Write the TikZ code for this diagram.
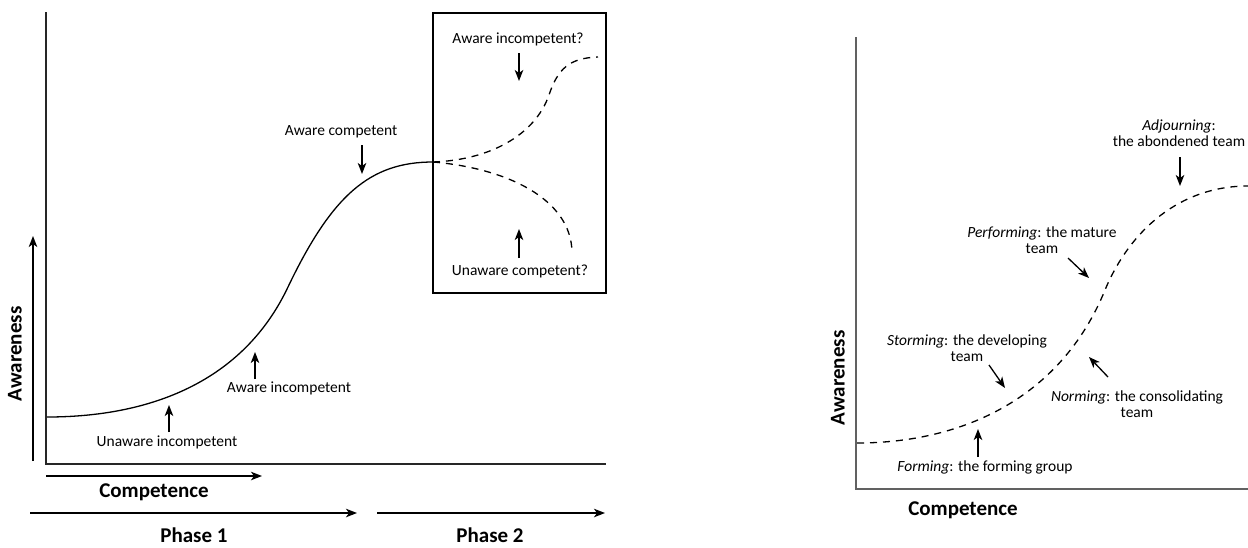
\documentclass[tikz,border=0pt]{standalone}
\usepackage{fontspec}
\setmainfont{Carlito}
\usetikzlibrary{arrows.meta}
\begin{document}
\begin{tikzpicture}[x=1pt,y=-1pt,
  lbl/.style={font=\fontsize{15.5}{16}\selectfont,inner sep=0pt,align=center},
  axlbl/.style={font=\fontsize{21}{24}\selectfont\bfseries,inner sep=0pt},
  arr/.style={line width=1.3pt,-{Stealth[length=11pt,width=8.5pt,inset=3pt]}},
  axis/.style={line width=1.3pt,draw=black!85},
  raxis/.style={line width=2pt,draw=black!62},
  curve/.style={line width=1.3pt},
  dcurve/.style={line width=1.3pt,dash pattern=on 7pt off 6pt}]
\useasboundingbox (0,0) rectangle (1248,547);
% ---------------- left diagram ----------------
\coordinate (vtop) at (46,12);
\coordinate (orig) at (46,464);
\coordinate (hend) at (606,464);
\draw[axis] (vtop) -- (orig) -- (hend);
\coordinate (awS) at (33,461);
\coordinate (awE) at (33,236);
\draw[arr] (awS) -- (awE);
\node[axlbl,rotate=90] (aw) at (15,354) {Awareness};
\coordinate (coS) at (46,476);
\coordinate (coE) at (262,476);
\draw[arr] (coS) -- (coE);
\node[axlbl] (co) at (154,492) {Competence};
\coordinate (p1S) at (30,513);
\coordinate (p1E) at (357,513);
\draw[arr] (p1S) -- (p1E);
\coordinate (p2S) at (377,513);
\coordinate (p2E) at (605,513);
\draw[arr] (p2S) -- (p2E);
\node[axlbl] (ph1) at (194,535) {Phase 1};
\node[axlbl] (ph2) at (490,535) {Phase 2};
% box
\node[draw,line width=2.4pt,minimum width=173pt,minimum height=280pt,inner sep=0pt] (box) at (519.5,153) {};
% solid curve
\coordinate (c0) at (47,417);
\coordinate (c1) at (288,287);
\coordinate (c2) at (433,162);
\draw[curve] (c0) .. controls (150,417) and (243,382) .. (c1)
  .. controls (332,195) and (370,162) .. (c2);
% dashed branches
\coordinate (u1) at (549,95);
\coordinate (u2) at (598,57);
\coordinate (l1) at (572,252);
\draw[dcurve] (c2) .. controls (490,160) and (535,135) .. (u1)
  .. controls (558,68) and (570,58) .. (u2);
\draw[dcurve] (c2) .. controls (505,168) and (571,198) .. (l1);
% labels left
\node[lbl] (ui) at (167,442) {Unaware incompetent};
\coordinate (uiS) at (169,432); \coordinate (uiE) at (169,405);
\draw[arr] (uiS) -- (uiE);
\node[lbl] (ai) at (289,388) {Aware incompetent};
\coordinate (aiS) at (255,379); \coordinate (aiE) at (255,352);
\draw[arr] (aiS) -- (aiE);
\node[lbl] (ac) at (341,132) {Aware competent};
\coordinate (acS) at (362,145); \coordinate (acE) at (362,174);
\draw[arr] (acS) -- (acE);
\node[lbl] (aiq) at (518,39) {Aware incompetent?};
\coordinate (aiqS) at (519,53); \coordinate (aiqE) at (519,81);
\draw[arr] (aiqS) -- (aiqE);
\node[lbl] (ucq) at (520,271) {Unaware competent?};
\coordinate (ucqS) at (519,258); \coordinate (ucqE) at (519,229);
\draw[arr] (ucqS) -- (ucqE);
% ---------------- right diagram ----------------
\coordinate (rtop) at (856,37);
\coordinate (rorig) at (856,489);
\coordinate (rend) at (1248,489);
\draw[raxis] (rtop) -- (rorig) -- (rend);
\node[axlbl,rotate=90] (raw) at (838,378) {Awareness};
\node[axlbl] (rco) at (963,510) {Competence};
\coordinate (r0) at (857,443);
\coordinate (r1) at (1105,290);
\coordinate (r2) at (1248,186);
\draw[dcurve] (r0) .. controls (960,443) and (1060,400) .. (r1)
  .. controls (1130,230) and (1180,186) .. (r2);
\node[lbl] (adj) at (1179,133) {\textit{Adjourning}:\\the abondened team};
\coordinate (adjS) at (1180,157); \coordinate (adjE) at (1180,186);
\draw[arr] (adjS) -- (adjE);
\node[lbl] (perf) at (1042,240.5) {\textit{Performing}: the mature\\team};
\coordinate (perfS) at (1068,258); \coordinate (perfE) at (1089,278);
\draw[arr] (perfS) -- (perfE);
\node[lbl] (storm) at (967,348) {\textit{Storming}: the developing\\team};
\coordinate (stS) at (989,365); \coordinate (stE) at (1005,388);
\draw[arr] (stS) -- (stE);
\node[lbl] (norm) at (1137,404) {\textit{Norming}: the consolidating\\team};
\coordinate (noS) at (1108,377); \coordinate (noE) at (1089,357);
\draw[arr] (noS) -- (noE);
\node[lbl] (form) at (985,467) {\textit{Forming}: the forming group};
\coordinate (foS) at (978,457); \coordinate (foE) at (978,429);
\draw[arr] (foS) -- (foE);
\end{tikzpicture}
\end{document}
